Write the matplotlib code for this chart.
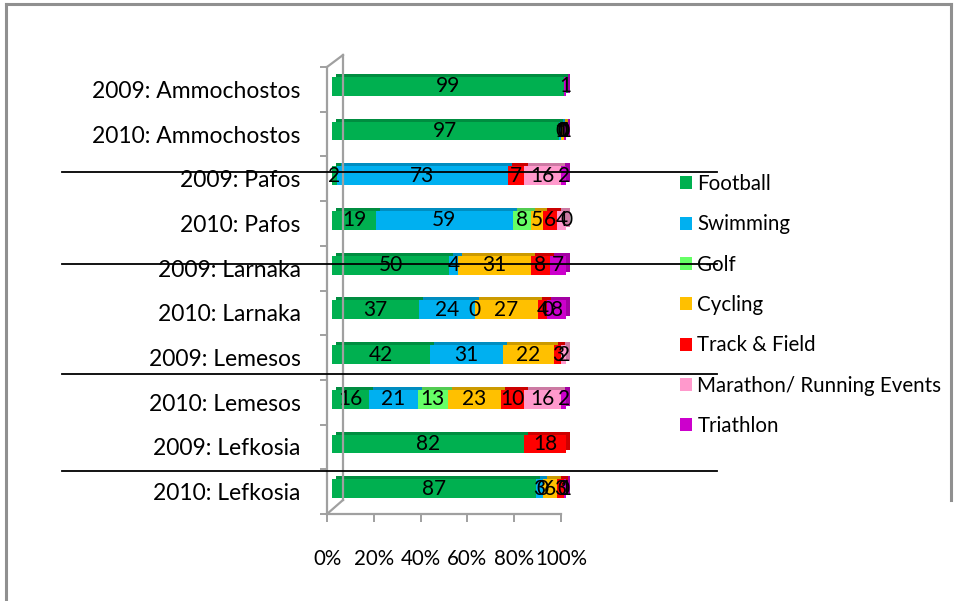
import numpy as np
import matplotlib
matplotlib.use('Agg')
import matplotlib.pyplot as plt
import matplotlib.colors as mcolors
from matplotlib.lines import Line2D
from matplotlib.transforms import ScaledTranslation

plt.rcParams['font.family'] = ['Lato', 'DejaVu Sans']

categories = [
    "2009: Ammochostos", "2010: Ammochostos",
    "2009: Pafos", "2010: Pafos",
    "2009: Larnaka", "2010: Larnaka",
    "2009: Lemesos", "2010: Lemesos",
    "2009: Lefkosia", "2010: Lefkosia",
]
nan = np.nan
# blank cells are nan (no label), explicit zeros keep their "0" label
football = [99, 97, 2, 19, 50, 37, 42, 16, 82, 87]
swimming = [nan, 1, 73, 59, 4, 24, 31, 21, nan, 3]
golf = [nan, 0, nan, 8, nan, 0, nan, 13, nan, 0]
cycling = [nan, 1, nan, 5, 31, 27, 22, 23, nan, 6]
track = [nan, 0, 7, 6, 8, 4, 3, 10, 18, 3]
marathon = [nan, 0, 16, 4, nan, 0, 2, 16, nan, 0]
triathlon = [1, 1, 2, 0, 7, 8, nan, 2, nan, 1]

series_names = ["Football", "Swimming", "Golf", "Cycling", "Track & Field",
                "Marathon/ Running Events", "Triathlon"]
series = [football, swimming, golf, cycling, track, marathon, triathlon]
colors = ["#00B050", "#00B0F0", "#66FF66", "#FFC000", "#FF0000",
          "#FF99CC", "#CC00CC"]
x_ticks = [0, 0.2, 0.4, 0.6, 0.8, 1.0]
x_ticklabels = ["0%", "20%", "40%", "60%", "80%", "100%"]

W, H = 957, 601
fig = plt.figure(figsize=(W / 100, H / 100), dpi=100)


def fx(px):
    return px / W


def fy(py):
    return 1 - py / H


def px_offset(dx, dy):
    return ScaledTranslation(dx / 100, dy / 100, fig.dpi_scale_trans)


# chart area: front axis at x=327, categories between y=67 and y=514
ax = fig.add_axes([fx(327), fy(514), fx(561) - fx(327), fy(67) - fy(514)])
ax.set_xlim(0, 1)
ax.set_ylim(len(categories) - 0.5, -0.5)

vals = np.array(series, dtype=float)
totals = np.nansum(vals, axis=0)
shares = np.nan_to_num(vals) / totals
y = np.arange(len(categories))

front = ax.transData + px_offset(5, 3)
back = ax.transData + px_offset(9, 6)
bar_h = 0.42

# darker copy shifted up/right gives the top and side faces
left = np.zeros(len(categories))
for name, share, col in zip(series_names, shares, colors):
    dark = tuple(c * 0.8 for c in mcolors.to_rgb(col))
    ax.barh(y, share, left=left, height=bar_h, color=dark, transform=back,
            zorder=2, linewidth=0, clip_on=False)
    left += share
left = np.zeros(len(categories))
handles = []
for name, raw, share, col in zip(series_names, vals, shares, colors):
    bars = ax.barh(y, share, left=left, height=bar_h, color=col,
                   transform=front, zorder=3, linewidth=0, label=name,
                   clip_on=False)
    handles.append(bars)
    for i in range(len(categories)):
        if np.isnan(raw[i]):
            continue
        ax.text(left[i] + share[i] / 2, y[i], f"{raw[i]:.0f}", transform=front,
                ha="center", va="center", fontsize=15, zorder=5)
    left += share

# axes styling (3-D look of the walls)
axis_grey = "#A0A0A0"
for s in ["top", "right"]:
    ax.spines[s].set_visible(False)
for s in ["left", "bottom"]:
    ax.spines[s].set_color(axis_grey)
    ax.spines[s].set_linewidth(1.6)

ax.set_yticks(y)
ax.set_yticklabels(categories, fontsize=16.5)
ax.set_yticks(np.arange(-0.5, len(categories), 1), minor=True)
ax.tick_params(axis="y", which="major", length=0, pad=19)
ax.tick_params(axis="y", which="minor", length=5, width=1.4, color=axis_grey)
ax.set_xticks(x_ticks)
ax.set_xticklabels(x_ticklabels, fontsize=14.8)
ax.tick_params(axis="x", length=6, width=1.4, color=axis_grey, pad=19)

fig.add_artist(Line2D([fx(343), fx(343)], [fy(55), fy(500)], color=axis_grey,
                      lw=1.6, zorder=1))
fig.add_artist(Line2D([fx(327), fx(343)], [fy(67), fy(55)], color=axis_grey,
                      lw=1.6))
fig.add_artist(Line2D([fx(327), fx(343)], [fy(514), fy(500)], color=axis_grey,
                      lw=1.6))

fig.legend(handles=handles, loc="upper left",
           bbox_to_anchor=(fx(680), fy(174)), frameon=False, fontsize=14.8,
           handlelength=0.6, handleheight=0.6, handletextpad=0.25,
           labelspacing=0.99, borderaxespad=0, borderpad=0)

# outer chart border
border = "#909090"
fig.add_artist(Line2D([fx(6), fx(6)], [fy(4), 0], color=border, lw=2.2))
fig.add_artist(Line2D([fx(6), fx(951)], [fy(4), fy(4)], color=border, lw=2.2))
fig.add_artist(Line2D([fx(951), fx(951)], [fy(4), fy(500)], color=border, lw=2.2))

# black rules crossing the chart
for py in [172, 264, 374, 471]:
    fig.add_artist(Line2D([fx(62), fx(717)], [fy(py), fy(py)], color="black",
                          lw=1.3, zorder=10))

fig.savefig("out.png", dpi=100)
